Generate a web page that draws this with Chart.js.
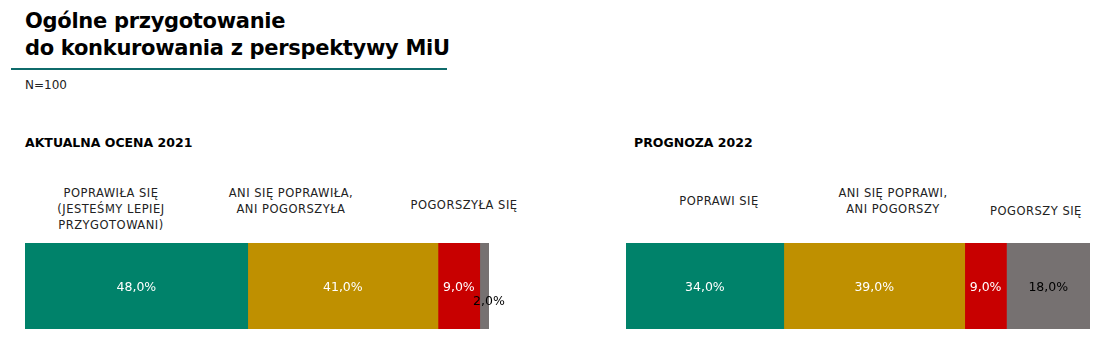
<!DOCTYPE html>
<html>
<head>
<meta charset="utf-8">
<script src="https://cdn.jsdelivr.net/npm/chart.js@4"></script>
<style>
  body { margin: 0; width: 1117px; height: 348px; background: #fff; position: relative; overflow: hidden; font-family: "DejaVu Sans", sans-serif; color: #000; }
  .abs { position: absolute; }
  #title { left: 25px; top: 8px; font-size: 21px; font-weight: bold; line-height: 27px; letter-spacing: -0.3px; }
  #rule { left: 11px; top: 68px; width: 436px; height: 2px; background: #0f6b6b; }
  #n { left: 25px; top: 78px; font-size: 12px; color: #222; }
  .head { font-size: 12.5px; font-weight: bold; }
  .cat { font-size: 11.5px; letter-spacing: 0.5px; line-height: 16px; text-align: center; color: #222; transform: translateX(-50%); white-space: nowrap; }
  canvas { position: absolute; }
</style>
</head>
<body>
<div id="title" class="abs">Ogólne przygotowanie<br>do konkurowania z perspektywy MiU</div>
<div id="rule" class="abs"></div>
<div id="n" class="abs">N=100</div>

<div class="abs head" style="left:25px; top:135px;">AKTUALNA OCENA 2021</div>
<div class="abs head" style="left:634px; top:135px;">PROGNOZA 2022</div>

<div class="abs cat" style="left:111px; top:185px;">POPRAWIŁA SIĘ<br>(JESTEŚMY LEPIEJ<br>PRZYGOTOWANI)</div>
<div class="abs cat" style="left:291px; top:185px;">ANI SIĘ POPRAWIŁA,<br>ANI POGORSZYŁA</div>
<div class="abs cat" style="left:464px; top:197px;">POGORSZYŁA SIĘ</div>

<div class="abs cat" style="left:719px; top:193px;">POPRAWI SIĘ</div>
<div class="abs cat" style="left:893px; top:185px;">ANI SIĘ POPRAWI,<br>ANI POGORSZY</div>
<div class="abs cat" style="left:1036px; top:203px;">POGORSZY SIĘ</div>

<canvas id="c2021" width="510" height="86" style="left:25px; top:243px;"></canvas>
<canvas id="c2022" width="480" height="86" style="left:626px; top:243px;"></canvas>

<script>
const categories2021 = ["Poprawiła się (jesteśmy lepiej przygotowani)", "Ani się poprawiła, ani pogorszyła", "Pogorszyła się", "Nie wiem"];
const values2021 = [48, 41, 9, 2];
const categories2022 = ["Poprawi się", "Ani się poprawi, ani pogorszy", "Pogorszy się", "Nie wiem"];
const values2022 = [34, 39, 9, 18];
const colors = ["#00826A", "#BF9000", "#C80000", "#767171"];
const labelColors = ["#fff", "#fff", "#fff", "#000"];

const fmt = (v) => v.toFixed(1).replace(".", ",") + "%";

const valueLabels = {
  id: "valueLabels",
  afterDatasetsDraw(chart) {
    const ctx = chart.ctx;
    ctx.save();
    ctx.font = "12.5px 'DejaVu Sans', sans-serif";
    ctx.textAlign = "center";
    ctx.textBaseline = "middle";
    chart.data.datasets.forEach((ds, i) => {
      const bar = chart.getDatasetMeta(i).data[0];
      const v = ds.data[0];
      ctx.fillStyle = labelColors[i];
      if (v < 5) {
        // too narrow: label hangs below the segment's end
        ctx.fillStyle = "#000";
        ctx.fillText(fmt(v), bar.x, bar.y + 16);
      } else {
        ctx.fillText(fmt(v), (bar.x + bar.base) / 2, bar.y + 2);
      }
    });
    ctx.restore();
  }
};

function makeBar(id, cats, vals, padRight) {
  new Chart(document.getElementById(id), {
    type: "bar",
    data: {
      labels: [""],
      datasets: cats.map((c, i) => ({
        label: c,
        data: [vals[i]],
        backgroundColor: colors[i],
        borderWidth: 0,
        barPercentage: 1,
        categoryPercentage: 1,
      })),
    },
    plugins: [valueLabels],
    options: {
      responsive: false,
      animation: false,
      indexAxis: "y",
      layout: { padding: { left: 0, right: padRight, top: 0, bottom: 0 } },
      scales: {
        x: { stacked: true, min: 0, max: 100, display: false },
        y: { stacked: true, display: false },
      },
      plugins: {
        legend: { display: false },
        tooltip: { enabled: false },
      },
    },
  });
}

makeBar("c2021", categories2021, values2021, 46);
makeBar("c2022", categories2022, values2022, 16);
</script>
</body>
</html>
